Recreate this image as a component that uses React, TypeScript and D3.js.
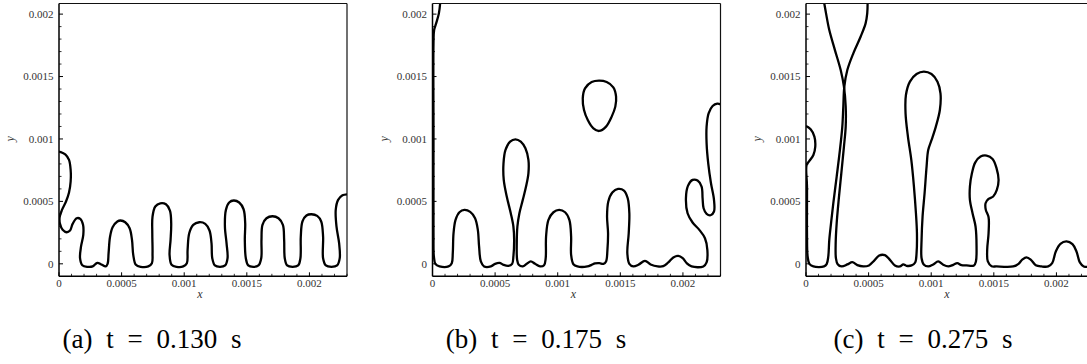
import React from "react";
import * as d3 from "d3";

type Pt = [number, number];

// Interface positions in micrometres (x along the wall, y height above the plate)
const X_DOMAIN: [number, number] = [0, 2300];
const Y_DOMAIN: [number, number] = [-100, 2085];
const MAJOR_TICKS = [0, 500, 1000, 1500, 2000];
const MAJOR_LABELS = ["0", "0.0005", "0.001", "0.0015", "0.002"];
const CAPTIONS = ["(a) t = 0.130 s", "(b) t = 0.175 s", "(c) t = 0.275 s"];

const frontA: Pt[] = [
  [0, 899], [50, 877], [80, 832], [93, 752], [93, 659], [80, 571], [56, 499], [24, 432],
  [5, 373], [8, 320], [29, 272], [61, 253], [88, 267], [109, 320], [141, 365], [170, 360],
  [192, 312], [194, 232], [176, 139], [168, 45], [186, -11], [226, -24], [269, -21],
  [306, 8], [338, -5], [372, -21], [388, 0], [396, 85], [407, 213], [428, 293], [466, 339],
  [492, 347], [529, 333], [564, 285], [583, 192], [593, 72], [614, -8], [652, -24],
  [713, -21], [742, 5], [747, 85], [745, 245], [747, 379], [769, 459], [809, 485],
  [854, 477], [886, 427], [896, 325], [891, 192], [883, 72], [899, -8], [939, -24],
  [992, -21], [1021, 5], [1027, 112], [1040, 245], [1072, 312], [1120, 333], [1168, 320],
  [1202, 267], [1218, 165], [1224, 45], [1245, -13], [1285, -24], [1327, -13], [1346, 45],
  [1338, 165], [1325, 299], [1333, 432], [1359, 491], [1396, 507], [1439, 491], [1474, 437],
  [1487, 325], [1484, 192], [1492, 45], [1511, -13], [1551, -24], [1593, -13], [1615, 45],
  [1617, 192], [1625, 312], [1657, 365], [1705, 381], [1753, 365], [1788, 312], [1798, 192],
  [1803, 45], [1822, -13], [1865, -24], [1910, -13], [1928, 45], [1931, 219], [1944, 339],
  [1976, 387], [2016, 397], [2062, 384], [2094, 339], [2109, 219], [2109, 45], [2131, -13],
  [2176, -24], [2221, -13], [2242, 45], [2237, 165], [2216, 299], [2210, 432], [2229, 512],
  [2264, 549], [2301, 557],
];

const frontB: Pt[] = [
  [61, 2085], [51, 2006], [29, 1926], [13, 1872], [8, 1766], [8, 1045], [8, 245], [11, 59],
  [24, -3], [56, -21], [128, -21], [154, 5], [162, 85], [168, 245], [184, 352], [215, 413],
  [255, 432], [301, 416], [340, 365], [362, 272], [372, 139], [386, 19], [412, -21],
  [466, -21], [500, 0], [535, 8], [567, -8], [606, -16], [636, 0], [646, 59], [652, 192],
  [646, 299], [625, 405], [593, 539], [569, 672], [567, 805], [583, 912], [620, 979],
  [662, 997], [705, 979], [742, 925], [766, 832], [766, 725], [747, 619], [721, 512],
  [694, 405], [678, 299], [673, 165], [676, 32], [689, -8], [721, -21], [753, 0], [785, 19],
  [819, 0], [859, -21], [891, -11], [904, 45], [907, 219], [926, 352], [966, 413],
  [1011, 432], [1059, 413], [1093, 352], [1107, 219], [1107, 72], [1125, -3], [1157, -21],
  [1237, -21], [1271, -8], [1298, 3], [1333, 5], [1365, 0], [1386, 19], [1397, 112],
  [1402, 245], [1394, 379], [1404, 499], [1436, 571], [1482, 600], [1529, 587], [1559, 525],
  [1572, 405], [1567, 245], [1556, 85], [1572, 0], [1604, -21], [1644, -8], [1697, 24],
  [1742, -5], [1798, -21], [1843, -19], [1883, 11], [1923, 51], [1963, 64], [1998, 45],
  [2030, 5], [2069, -21], [2163, -21], [2189, 11], [2195, 112], [2176, 205], [2131, 272],
  [2077, 331], [2037, 405], [2024, 525], [2040, 624], [2077, 672], [2117, 667], [2149, 619],
  [2157, 525], [2165, 445], [2189, 400], [2221, 389], [2248, 419], [2248, 512], [2224, 645],
  [2202, 805], [2189, 965], [2189, 1099], [2205, 1205], [2237, 1264], [2274, 1283],
  [2301, 1277],
];

const dropB: Pt[] = [
  [1200, 1326], [1218, 1405], [1271, 1456], [1330, 1467], [1391, 1456], [1444, 1414],
  [1466, 1339], [1460, 1259], [1431, 1179], [1386, 1099], [1330, 1064], [1285, 1085],
  [1240, 1152], [1210, 1232],
];

const wallFilmC: Pt[] = [
  [0, 1104], [37, 1077], [67, 1019], [74, 939], [59, 872], [27, 824], [5, 792], [8, 619],
  [8, 245], [13, 59], [27, 0], [59, -21], [144, -21], [165, -3], [178, 59], [186, 192],
  [200, 325], [218, 485], [245, 699], [271, 912], [290, 1099], [298, 1259], [306, 1419],
  [330, 1552], [378, 1686], [436, 1819], [476, 1926], [489, 2006], [492, 2085],
];

const frontC: Pt[] = [
  [146, 2085], [160, 2006], [186, 1872], [231, 1712], [277, 1552], [303, 1419], [317, 1259],
  [317, 1099], [303, 939], [282, 725], [261, 512], [245, 325], [237, 165], [239, 45],
  [253, -3], [285, -21], [330, -5], [370, 13], [410, -11], [458, -21], [503, -13], [543, 24],
  [585, 67], [630, 69], [670, 32], [710, -13], [750, -21], [777, -5], [803, -16], [843, -13],
  [872, 11], [883, 85], [886, 245], [878, 405], [862, 619], [841, 832], [814, 1019],
  [795, 1205], [798, 1352], [830, 1459], [883, 1520], [941, 1539], [1002, 1520],
  [1050, 1459], [1074, 1365], [1069, 1232], [1037, 1099], [1003, 992], [976, 912],
  [963, 779], [947, 565], [931, 379], [923, 192], [923, 45], [942, -8], [976, -21],
  [1016, -5], [1056, 19], [1096, -8], [1136, -21], [1176, -8], [1208, 5], [1242, -11],
  [1282, -13], [1341, -13], [1357, 19], [1362, 139], [1354, 299], [1330, 405], [1309, 512],
  [1309, 619], [1325, 725], [1351, 811], [1394, 859], [1442, 867], [1490, 840], [1522, 765],
  [1538, 672], [1524, 592], [1495, 539], [1458, 520], [1434, 485], [1436, 432], [1458, 373],
  [1458, 245], [1447, 112], [1452, 19], [1482, -19], [1522, -21], [1655, -21], [1694, -3],
  [1729, 35], [1761, 51], [1796, 32], [1835, -11], [1881, -21], [1934, -21], [1966, 5],
  [1995, 99], [2032, 160], [2080, 179], [2128, 157], [2160, 99], [2187, 11], [2218, -21],
  [2300, -21],
];

const PANELS: { open: Pt[][]; closed: Pt[][] }[] = [
  { open: [frontA], closed: [] },
  { open: [frontB], closed: [dropB] },
  { open: [wallFilmC, frontC], closed: [] },
];

const PANEL_LEFT = [59, 432.5, 806];
const PLOT_W = 288;
const PLOT_TOP = 3.5;
const PLOT_BOTTOM = 276.3;
const CAPTION_X = [152, 536, 923];

const SERIF = "Liberation Serif, DejaVu Serif, serif";

function Panel({ index }: { index: number }) {
  const left = PANEL_LEFT[index];
  const x = d3.scaleLinear().domain(X_DOMAIN).range([left, left + PLOT_W]);
  const y = d3.scaleLinear().domain(Y_DOMAIN).range([PLOT_BOTTOM, PLOT_TOP]);
  const openLine = d3
    .line<Pt>()
    .x((d) => x(d[0]))
    .y((d) => y(d[1]))
    .curve(d3.curveCatmullRom.alpha(0.5));
  const closedLine = d3
    .line<Pt>()
    .x((d) => x(d[0]))
    .y((d) => y(d[1]))
    .curve(d3.curveCatmullRomClosed.alpha(0.5));
  const clipId = `plot-clip-${index}`;
  const xMinor = d3.range(100, 2301, 100).filter((v) => v % 500 !== 0);
  const yMinor = d3.range(100, 2001, 100).filter((v) => v % 500 !== 0);
  const panel = PANELS[index];
  const right = left + PLOT_W;
  return (
    <g>
      <defs>
        <clipPath id={clipId}>
          <rect x={left} y={PLOT_TOP} width={PLOT_W} height={PLOT_BOTTOM - PLOT_TOP} />
        </clipPath>
      </defs>
      <g clipPath={`url(#${clipId})`} fill="none" stroke="#000" strokeWidth={2.3} strokeLinejoin="round">
        {panel.open.map((pts, i) => (
          <path key={`o${i}`} d={openLine(pts) ?? ""} />
        ))}
        {panel.closed.map((pts, i) => (
          <path key={`c${i}`} d={closedLine(pts) ?? ""} />
        ))}
      </g>
      {/* frame */}
      <line x1={left} x2={right} y1={PLOT_TOP} y2={PLOT_TOP} stroke="#111" strokeWidth={1.2} />
      <line x1={right} x2={right} y1={PLOT_TOP} y2={PLOT_BOTTOM} stroke="#111" strokeWidth={1.2} />
      <line x1={left} x2={left} y1={PLOT_TOP} y2={PLOT_BOTTOM} stroke="#000" strokeWidth={1.5} />
      <line x1={left} x2={right} y1={PLOT_BOTTOM} y2={PLOT_BOTTOM} stroke="#000" strokeWidth={1.5} />
      {/* ticks */}
      {MAJOR_TICKS.map((v) => (
        <line key={`xM${v}`} x1={x(v)} x2={x(v)} y1={PLOT_BOTTOM} y2={PLOT_BOTTOM - 4} stroke="#000" strokeWidth={1} />
      ))}
      {xMinor.map((v) => (
        <line key={`xm${v}`} x1={x(v)} x2={x(v)} y1={PLOT_BOTTOM} y2={PLOT_BOTTOM - 2.5} stroke="#000" strokeWidth={0.8} />
      ))}
      {MAJOR_TICKS.map((v) => (
        <line key={`yM${v}`} x1={left} x2={left + 4} y1={y(v)} y2={y(v)} stroke="#000" strokeWidth={1} />
      ))}
      {yMinor.map((v) => (
        <line key={`ym${v}`} x1={left} x2={left + 2.5} y1={y(v)} y2={y(v)} stroke="#000" strokeWidth={0.8} />
      ))}
      {/* tick labels */}
      {MAJOR_TICKS.map((v, i) => (
        <text key={`xl${v}`} x={x(v)} y={287} textAnchor="middle" fontFamily={SERIF} fontSize={11} fill="#333">
          {MAJOR_LABELS[i]}
        </text>
      ))}
      {MAJOR_TICKS.map((v, i) => (
        <text key={`yl${v}`} x={left - 5.5} y={y(v) + 3.8} textAnchor="end" fontFamily={SERIF} fontSize={11} fill="#333">
          {MAJOR_LABELS[i]}
        </text>
      ))}
      <text x={(left + right) / 2 - 3} y={298} textAnchor="middle" fontFamily={SERIF} fontStyle="italic" fontSize={12} fill="#333">
        x
      </text>
      <text
        transform={`translate(${left - 45},${y(1000)}) rotate(-90)`}
        textAnchor="middle"
        fontFamily={SERIF}
        fontStyle="italic"
        fontSize={12}
        fill="#333"
      >
        y
      </text>
      <text
        x={CAPTION_X[index]}
        y={348}
        textAnchor="middle"
        fontFamily={SERIF}
        fontSize={27}
        wordSpacing={7}
        fill="#000"
      >
        {CAPTIONS[index]}
      </text>
    </g>
  );
}

export default function App() {
  return (
    <div style={{ position: "absolute", left: 0, top: 0 }}>
      <svg width={1087} height={364} viewBox="0 0 1087 364" style={{ display: "block", background: "#fff" }}>
        {[0, 1, 2].map((i) => (
          <Panel key={i} index={i} />
        ))}
      </svg>
    </div>
  );
}
